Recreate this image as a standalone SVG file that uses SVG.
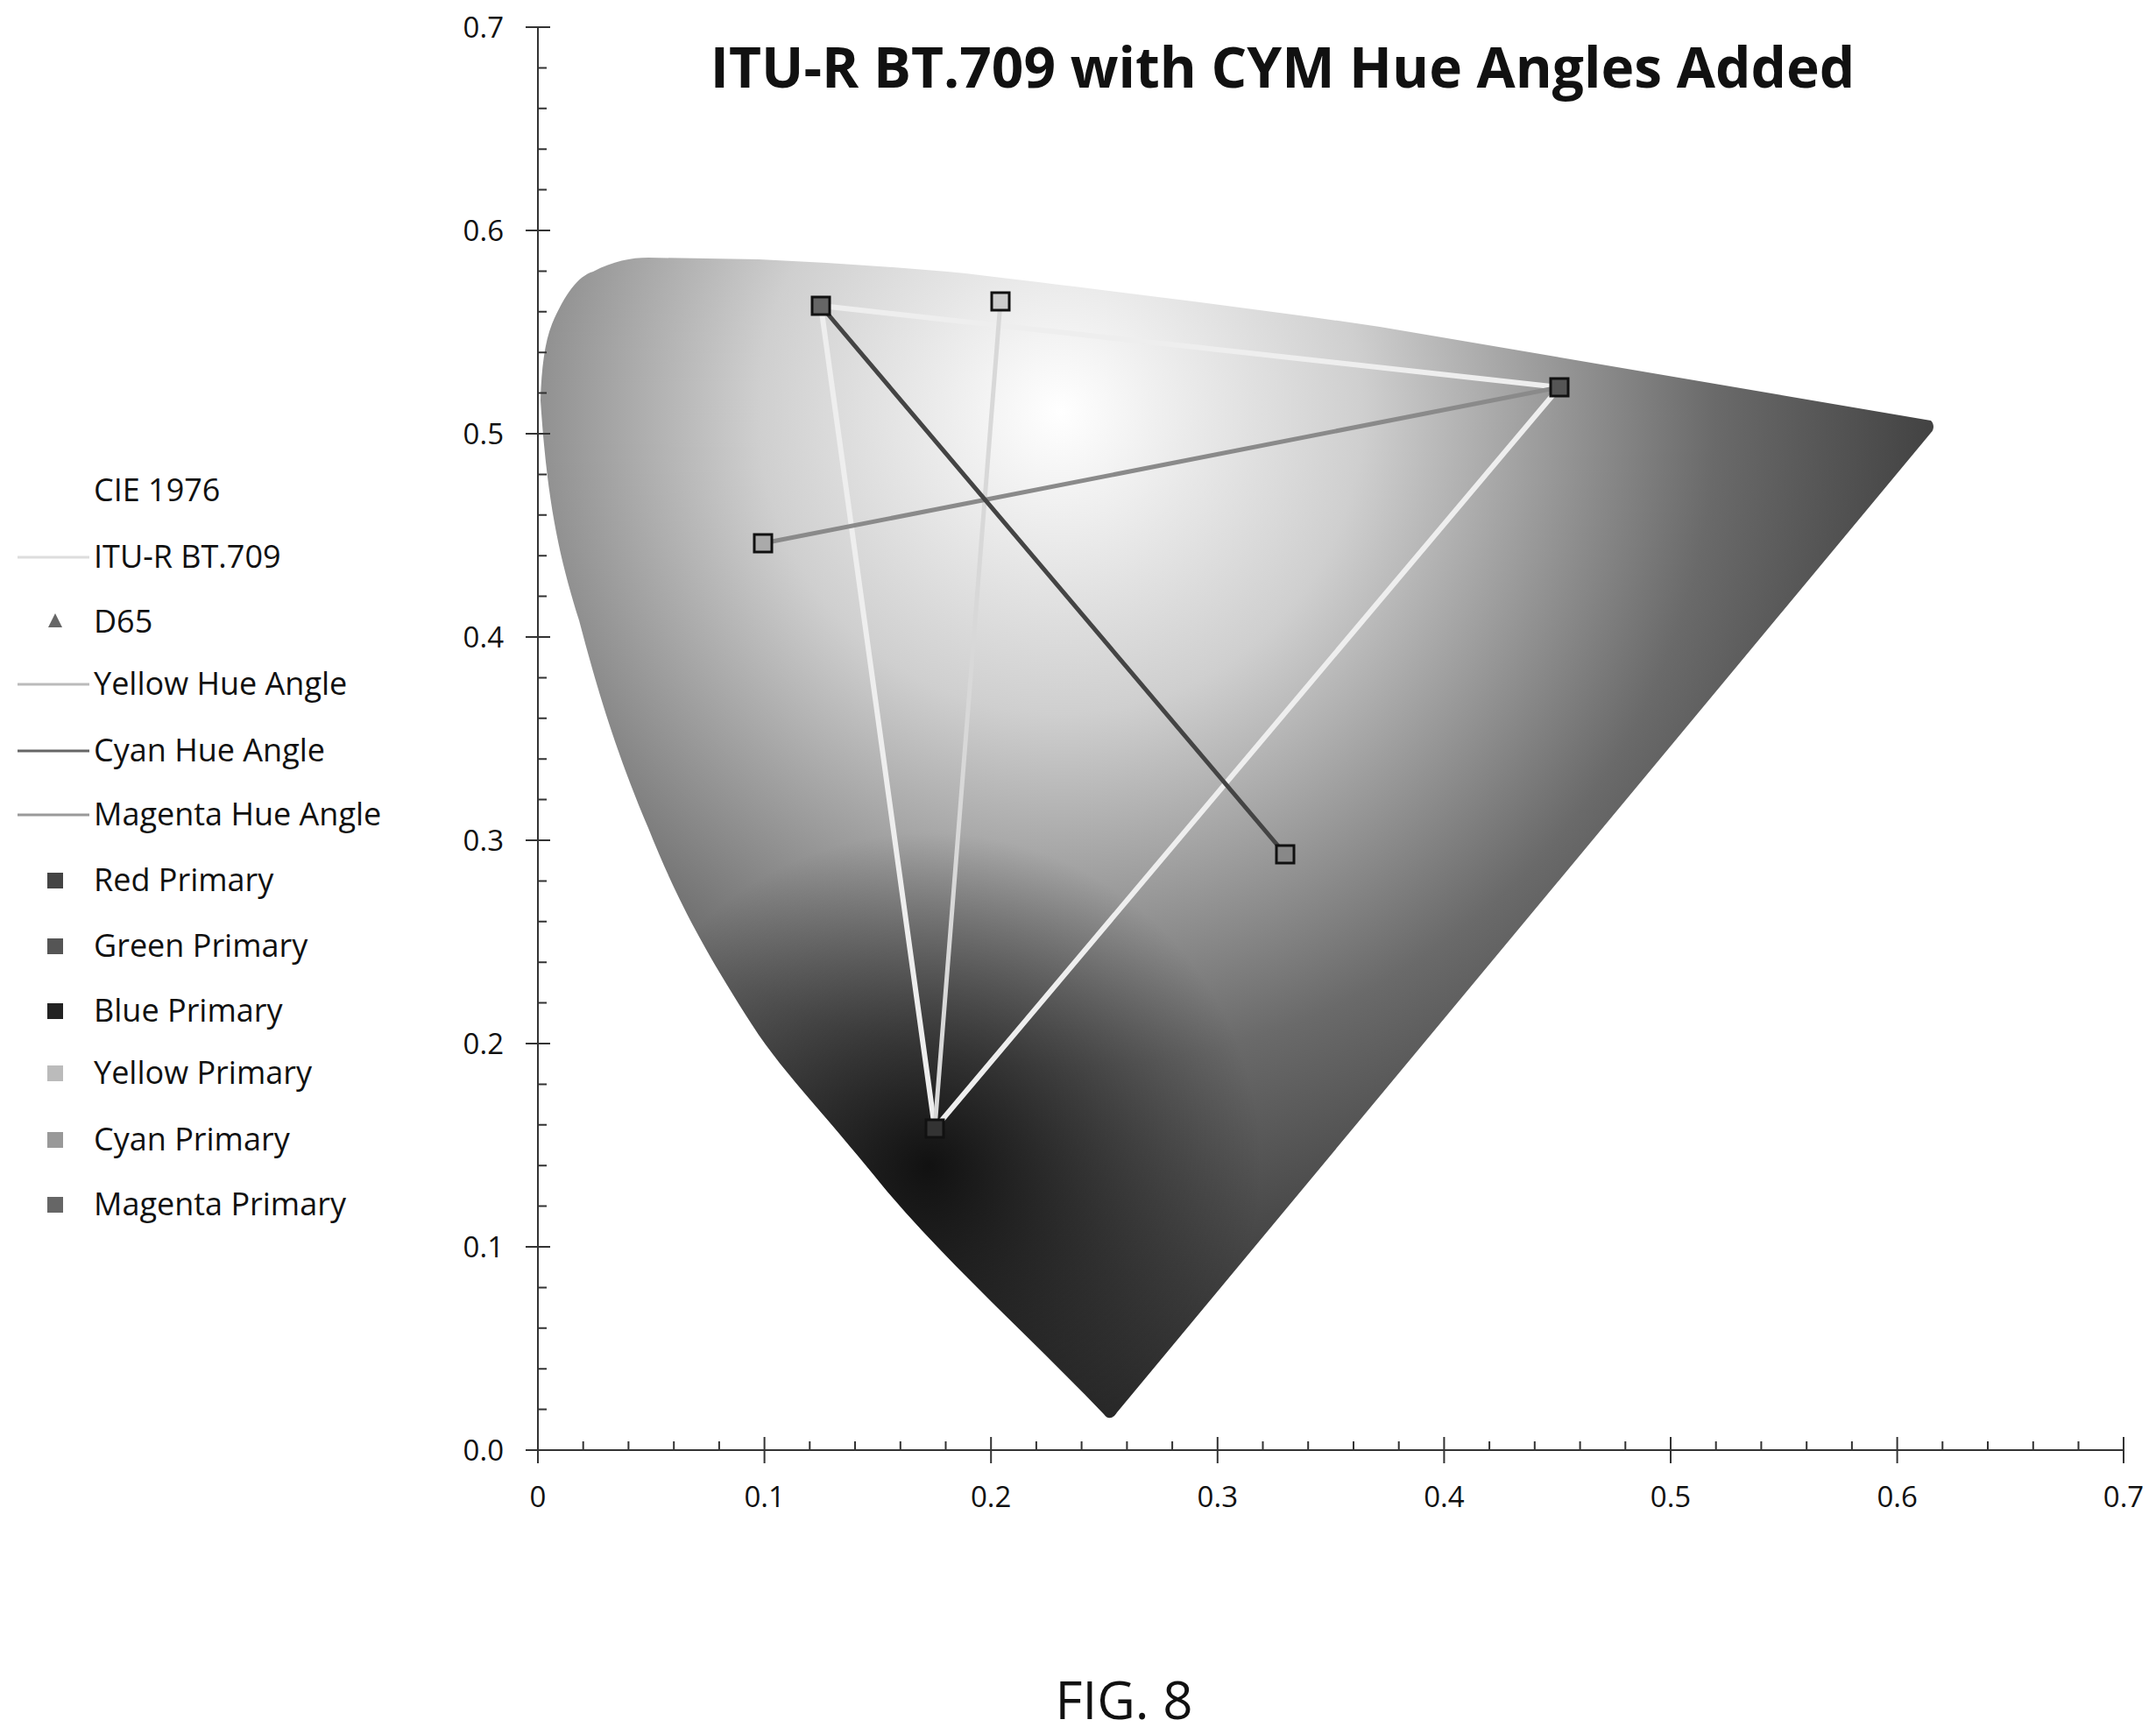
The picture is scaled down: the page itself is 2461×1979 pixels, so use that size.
<svg xmlns="http://www.w3.org/2000/svg" width="2461" height="1979" viewBox="0 0 2461 1979">
<style>
text{font-family:"Open Sans","Liberation Sans",sans-serif;fill:#111}
.ax{font-size:33px}
.lg{font-size:36px}
.pm{stroke:#111;stroke-width:3}
</style>
<defs>
<radialGradient id="g1" gradientUnits="userSpaceOnUse" cx="1210" cy="470" r="1150">
<stop offset="0" stop-color="#ffffff"/>
<stop offset="0.3" stop-color="#cfcfcf"/>
<stop offset="0.65" stop-color="#6a6a6a"/>
<stop offset="1" stop-color="#2a2a2a"/>
</radialGradient>
<radialGradient id="g2" gradientUnits="userSpaceOnUse" cx="1060" cy="1330" r="380">
<stop offset="0" stop-color="#000" stop-opacity="0.8"/>
<stop offset="1" stop-color="#000" stop-opacity="0"/>
</radialGradient>
</defs>
<rect width="2461" height="1979" fill="#fff"/>
<g id="gamut">
<path id="shape" d="M1260,1614 C1180,1530 1080,1440 1008,1354 C940,1270 900,1230 866,1181 C800,1080 770,1020 740,945 C700,850 680,780 661,708 C640,640 625,580 617,457 C618,420 622,390 630,370 C645,335 660,315 677,310 C700,298 720,294 740,294 L866,296 C950,300 1030,305 1102,312 C1250,330 1420,350 1575,373 L2204,480 C2208,484 2208,490 2204,494 L1275,1612 C1270,1620 1264,1620 1260,1614 Z" fill="url(#g1)"/>
<path d="M1260,1614 C1180,1530 1080,1440 1008,1354 C940,1270 900,1230 866,1181 C800,1080 770,1020 740,945 C700,850 680,780 661,708 C640,640 625,580 617,457 C618,420 622,390 630,370 C645,335 660,315 677,310 C700,298 720,294 740,294 L866,296 C950,300 1030,305 1102,312 C1250,330 1420,350 1575,373 L2204,480 C2208,484 2208,490 2204,494 L1275,1612 C1270,1620 1264,1620 1260,1614 Z" fill="url(#g2)"/>
</g>
<g id="axes" stroke="#333" stroke-width="2" fill="none">
<path d="M614,31 V1655 H2424"/>
<path d="M600,1655H628M600,1423H628M600,1191H628M600,959H628M600,727H628M600,495H628M600,263H628M600,31H628 M614,1608.6h10M614,1562.2h10M614,1515.8h10M614,1469.4h10M614,1376.6h10M614,1330.2h10M614,1283.8h10M614,1237.4h10M614,1144.6h10M614,1098.2h10M614,1051.8h10M614,1005.4h10M614,912.6h10M614,866.2h10M614,819.8h10M614,773.4h10M614,680.6h10M614,634.2h10M614,587.8h10M614,541.4h10M614,448.6h10M614,402.2h10M614,355.8h10M614,309.4h10M614,216.6h10M614,170.2h10M614,123.8h10M614,77.4h10"/>
<path d="M614,1640V1670M872.6,1640V1670M1131.2,1640V1670M1389.8,1640V1670M1648.4,1640V1670M1907,1640V1670M2165.6,1640V1670M2424,1640V1670 M665.7,1645v10M717.4,1645v10M769.2,1645v10M820.9,1645v10M924.3,1645v10M976,1645v10M1027.8,1645v10M1079.5,1645v10M1182.9,1645v10M1234.6,1645v10M1286.4,1645v10M1338.1,1645v10M1441.5,1645v10M1493.2,1645v10M1545,1645v10M1596.7,1645v10M1700.1,1645v10M1751.8,1645v10M1803.6,1645v10M1855.3,1645v10M1958.7,1645v10M2010.4,1645v10M2062.2,1645v10M2113.9,1645v10M2217.3,1645v10M2269,1645v10M2320.8,1645v10M2372.5,1645v10"/>
</g>
<g id="ticklabels">
<text x="575" y="1667" text-anchor="end" class="ax">0.0</text>
<text x="575" y="1435" text-anchor="end" class="ax">0.1</text>
<text x="575" y="1203" text-anchor="end" class="ax">0.2</text>
<text x="575" y="971" text-anchor="end" class="ax">0.3</text>
<text x="575" y="739" text-anchor="end" class="ax">0.4</text>
<text x="575" y="507" text-anchor="end" class="ax">0.5</text>
<text x="575" y="275" text-anchor="end" class="ax">0.6</text>
<text x="575" y="43" text-anchor="end" class="ax">0.7</text>
<text x="614" y="1720" text-anchor="middle" class="ax">0</text>
<text x="872.6" y="1720" text-anchor="middle" class="ax">0.1</text>
<text x="1131.2" y="1720" text-anchor="middle" class="ax">0.2</text>
<text x="1389.8" y="1720" text-anchor="middle" class="ax">0.3</text>
<text x="1648.4" y="1720" text-anchor="middle" class="ax">0.4</text>
<text x="1907" y="1720" text-anchor="middle" class="ax">0.5</text>
<text x="2165.6" y="1720" text-anchor="middle" class="ax">0.6</text>
<text x="2424" y="1720" text-anchor="middle" class="ax">0.7</text>
</g>
<g id="connectors" fill="none" stroke-linecap="round">
<path d="M1780,442 L937,349 L1067,1288 Z" stroke="#eeeeee" stroke-width="6"/>
<path d="M1067,1288 L1142,344" stroke="#d8d8d8" stroke-width="5"/>
<path d="M871,620 L1780,442" stroke="#8a8a8a" stroke-width="5"/>
<path d="M937,349 L1467,975" stroke="#444" stroke-width="5"/>
</g>
<g id="primaries" class="pm">
<rect id="red" x="1770" y="432" width="20" height="20" fill="#555"/>
<rect id="green" x="927" y="339" width="20" height="20" fill="#666"/>
<rect id="blue" x="1057" y="1278" width="20" height="20" fill="#333"/>
<rect id="yellow" x="1132" y="334" width="20" height="20" fill="#ccc"/>
<rect id="cyan" x="861" y="610" width="20" height="20" fill="#aaa"/>
<rect id="magenta" x="1457" y="965" width="20" height="20" fill="#888"/>
</g>
<g id="title"><text x="1464" y="100" text-anchor="middle" font-size="64" font-weight="bold">ITU-R BT.709 with CYM Hue Angles Added</text></g>
<g id="legend">
<text x="107" y="572" class="lg">CIE 1976</text>
<line x1="20" y1="636" x2="102" y2="636" stroke="#ddd" stroke-width="3"/><text x="107" y="648" class="lg">ITU-R BT.709</text>
<polygon points="63,700 55,716 71,716" fill="#666"/><text x="107" y="722" class="lg">D65</text>
<line x1="20" y1="781" x2="102" y2="781" stroke="#bbb" stroke-width="3"/><text x="107" y="793" class="lg">Yellow Hue Angle</text>
<line x1="20" y1="857" x2="102" y2="857" stroke="#666" stroke-width="3"/><text x="107" y="869" class="lg">Cyan Hue Angle</text>
<line x1="20" y1="930" x2="102" y2="930" stroke="#999" stroke-width="3"/><text x="107" y="942" class="lg">Magenta Hue Angle</text>
<rect x="54" y="996" width="18" height="18" fill="#444"/><text x="107" y="1017" class="lg">Red Primary</text>
<rect x="54" y="1071" width="18" height="18" fill="#555"/><text x="107" y="1092" class="lg">Green Primary</text>
<rect x="54" y="1145" width="18" height="18" fill="#222"/><text x="107" y="1166" class="lg">Blue Primary</text>
<rect x="54" y="1216" width="18" height="18" fill="#bbb"/><text x="107" y="1237" class="lg">Yellow Primary</text>
<rect x="54" y="1292" width="18" height="18" fill="#999"/><text x="107" y="1313" class="lg">Cyan Primary</text>
<rect x="54" y="1366" width="18" height="18" fill="#666"/><text x="107" y="1387" class="lg">Magenta Primary</text>
</g>
<g id="caption"><text x="1283" y="1962" text-anchor="middle" font-size="60">FIG. 8</text></g>
</svg>
